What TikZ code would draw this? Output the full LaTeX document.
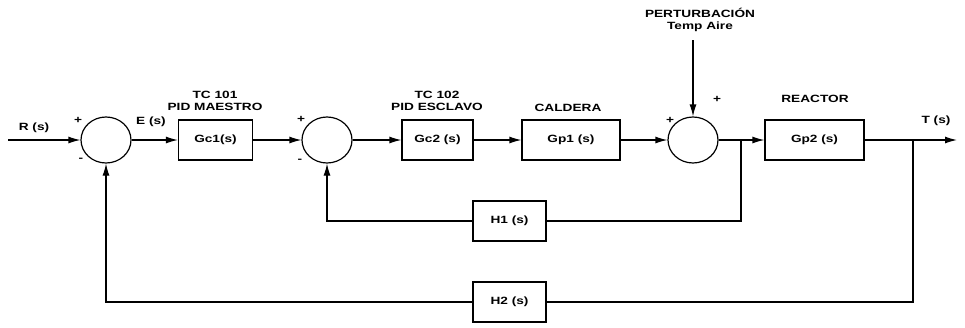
\documentclass[tikz,border=0pt]{standalone}
\usepackage{fontspec}
\setmainfont{Liberation Sans}[FakeStretch=1.3]
\usetikzlibrary{shapes.geometric,arrows.meta}
\begin{document}
\begin{tikzpicture}[x=1pt,y=1pt,
  font=\fontsize{10.5}{12}\selectfont\bfseries,
  line width=1.2pt,
  blk/.style={draw,rectangle,minimum width=74pt,minimum height=40pt,inner sep=0pt},
  sumj/.style={draw,ellipse,minimum width=50pt,minimum height=46pt,inner sep=0pt},
  arr/.style={-{Latex[length=12pt,width=7pt]}},
  lbl/.style={inner sep=0pt}]
\useasboundingbox (0,0) rectangle (965,-327);
% junctions
\node[sumj] (s1) at (106,-140) {};
\node[sumj] (s2) at (327,-140) {};
\node[sumj] (s3) at (693,-140) {};
% blocks
\node[blk] (gc1) at (215.5,-140) {Gc1(s)};
\node[blk,minimum width=71pt] (gc2) at (437.5,-140) {Gc2 (s)};
\node[blk,minimum width=98pt] (gp1) at (571,-140) {Gp1 (s)};
\node[blk,minimum width=99pt] (gp2) at (814.5,-140) {Gp2 (s)};
\node[blk,minimum width=73pt] (h1) at (509.5,-221) {H1 (s)};
\node[blk,minimum width=73pt] (h2) at (509.5,-302) {H2 (s)};
% coordinates
\coordinate (rin) at (8,-140);
\coordinate (dist) at (693,-40);
\coordinate (b1) at (741,-140);
\coordinate (b2) at (913,-140);
\coordinate (tout) at (957,-140);
% labels
\node[lbl] (lr) at (34,-128) {R (s)};
\node[lbl] (le) at (151,-122) {E (s)};
\node[lbl] (lt) at (936,-121) {T (s)};
\node[lbl] (tc1) at (215,-95) {TC 101};
\node[lbl] (pid1) at (215,-107) {PID MAESTRO};
\node[lbl] (tc2) at (437,-95) {TC 102};
\node[lbl] (pid2) at (437,-107) {PID ESCLAVO};
\node[lbl] (cal) at (568,-108) {CALDERA};
\node[lbl] (rea) at (815,-99) {REACTOR};
\node[lbl] (pert) at (700,-13) {PERTURBACIÓN};
\node[lbl] (tair) at (700,-27) {Temp Aire};
\node[lbl] (p1) at (78,-120) {+};
\node[lbl] (m1) at (81,-160) {-};
\node[lbl] (p2) at (301,-119) {+};
\node[lbl] (m2) at (300,-161) {-};
\node[lbl] (p3) at (670,-120) {+};
\node[lbl] (p4) at (717,-99) {+};
% connectors
\draw[arr] (rin) -- (s1.west);
\draw[arr] (s1.east) -- (gc1.west);
\draw[arr] (gc1.east) -- (s2.west);
\draw[arr] (s2.east) -- (gc2.west);
\draw[arr] (gc2.east) -- (gp1.west);
\draw[arr] (gp1.east) -- (s3.west);
\draw[arr] (dist) -- (s3.north);
\draw[arr] (s3.east) -- (gp2.west);
\draw[arr] (gp2.east) -- (tout);
\draw (b1) |- (h1.east);
\draw[arr] (h1.west) -| (s2.south);
\draw (b2) |- (h2.east);
\draw[arr] (h2.west) -| (s1.south);
\end{tikzpicture}
\end{document}
